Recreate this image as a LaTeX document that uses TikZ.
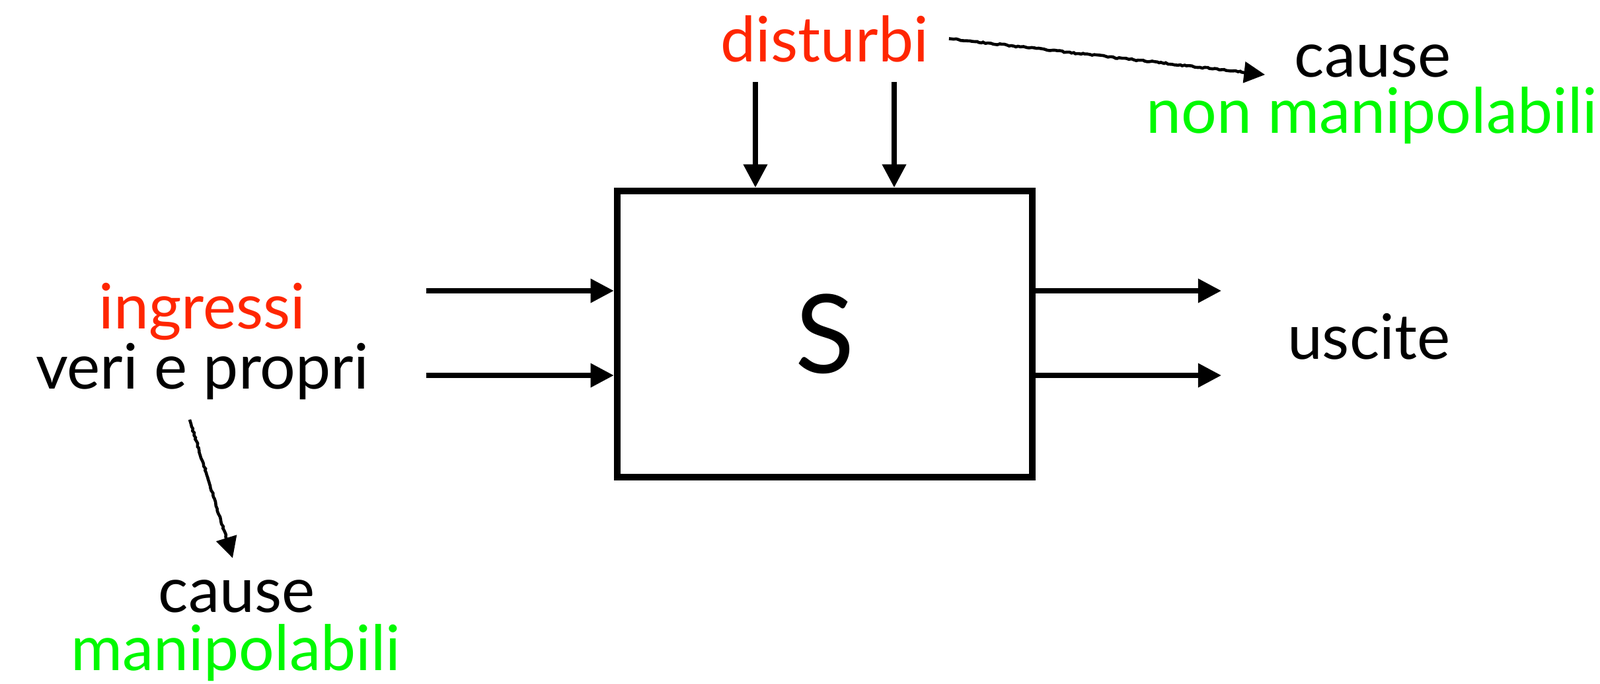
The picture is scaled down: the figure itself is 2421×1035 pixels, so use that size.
\documentclass[tikz,border=0pt]{standalone}
\usepackage{fontspec}
\setmainfont{Lato}
\usetikzlibrary{positioning,arrows.meta,decorations.pathmorphing}

\definecolor{rosso}{RGB}{255,38,0}
\definecolor{verde}{RGB}{0,249,0}

\tikzset{
  testo/.style={inner sep=0pt,anchor=base,font=\fontsize{27}{30}\selectfont},
  freccia/.style={line width=2pt,-{Triangle[length=10pt,width=10pt]}},
  mano/.style={line width=1.3pt,-{Triangle[length=9pt,width=9pt]},decorate,
    decoration={random steps,segment length=1pt,amplitude=0.3pt,pre length=2pt,post length=5pt}},
}

\begin{document}
\begin{tikzpicture}[x=0.1mm,y=-0.1mm]
\useasboundingbox (0,0) rectangle (2421,1035);

% il sistema
\node[draw,line width=3pt,minimum width=62.8mm,minimum height=43.3mm,inner sep=0pt,
  font=\fontsize{47}{50}\selectfont] (sys) at (1248,505.5) {S};

% testi
\node[testo,text=rosso] (dist) at (1248,93) {disturbi};
\node[testo] (causeN) at (2077,116) {cause};
\node[testo,text=verde] (nonman) at (2076,201) {non manipolabili};
\node[testo,text=rosso] (ingr) at (306,497) {ingressi};
\node[testo] (veri) at (306,588) {veri e propri};
\node[testo] (causeM) at (358,926) {cause};
\node[testo,text=verde] (manip) at (357,1014) {manipolabili};
\node[testo] (usc) at (2071,543) {uscite};

% ingressi e uscite
\coordinate (in1) at (645,440);
\coordinate (in2) at (645,568);
\coordinate (out1) at (1848,440);
\coordinate (out2) at (1848,568);
\draw[freccia] (in1) -- (in1 -| sys.west);
\draw[freccia] (in2) -- (in2 -| sys.west);
\draw[freccia] (out1 -| sys.east) -- (out1);
\draw[freccia] (out2 -| sys.east) -- (out2);

% disturbi
\coordinate (d1) at (1143,124);
\coordinate (d2) at (1353,124);
\draw[freccia] (d1) -- (d1 |- sys.north);
\draw[freccia] (d2) -- (d2 |- sys.north);

% frecce a mano
\draw[mano] ([xshift=3mm,yshift=0mm]dist.east) -- ([xshift=-4.4mm,yshift=0.3mm]causeN.base west);
\draw[mano] ([xshift=-1.9mm,yshift=-3mm]veri.south) -- ([xshift=-0.6mm,yshift=3.2mm]causeM.north);
\end{tikzpicture}
\end{document}
